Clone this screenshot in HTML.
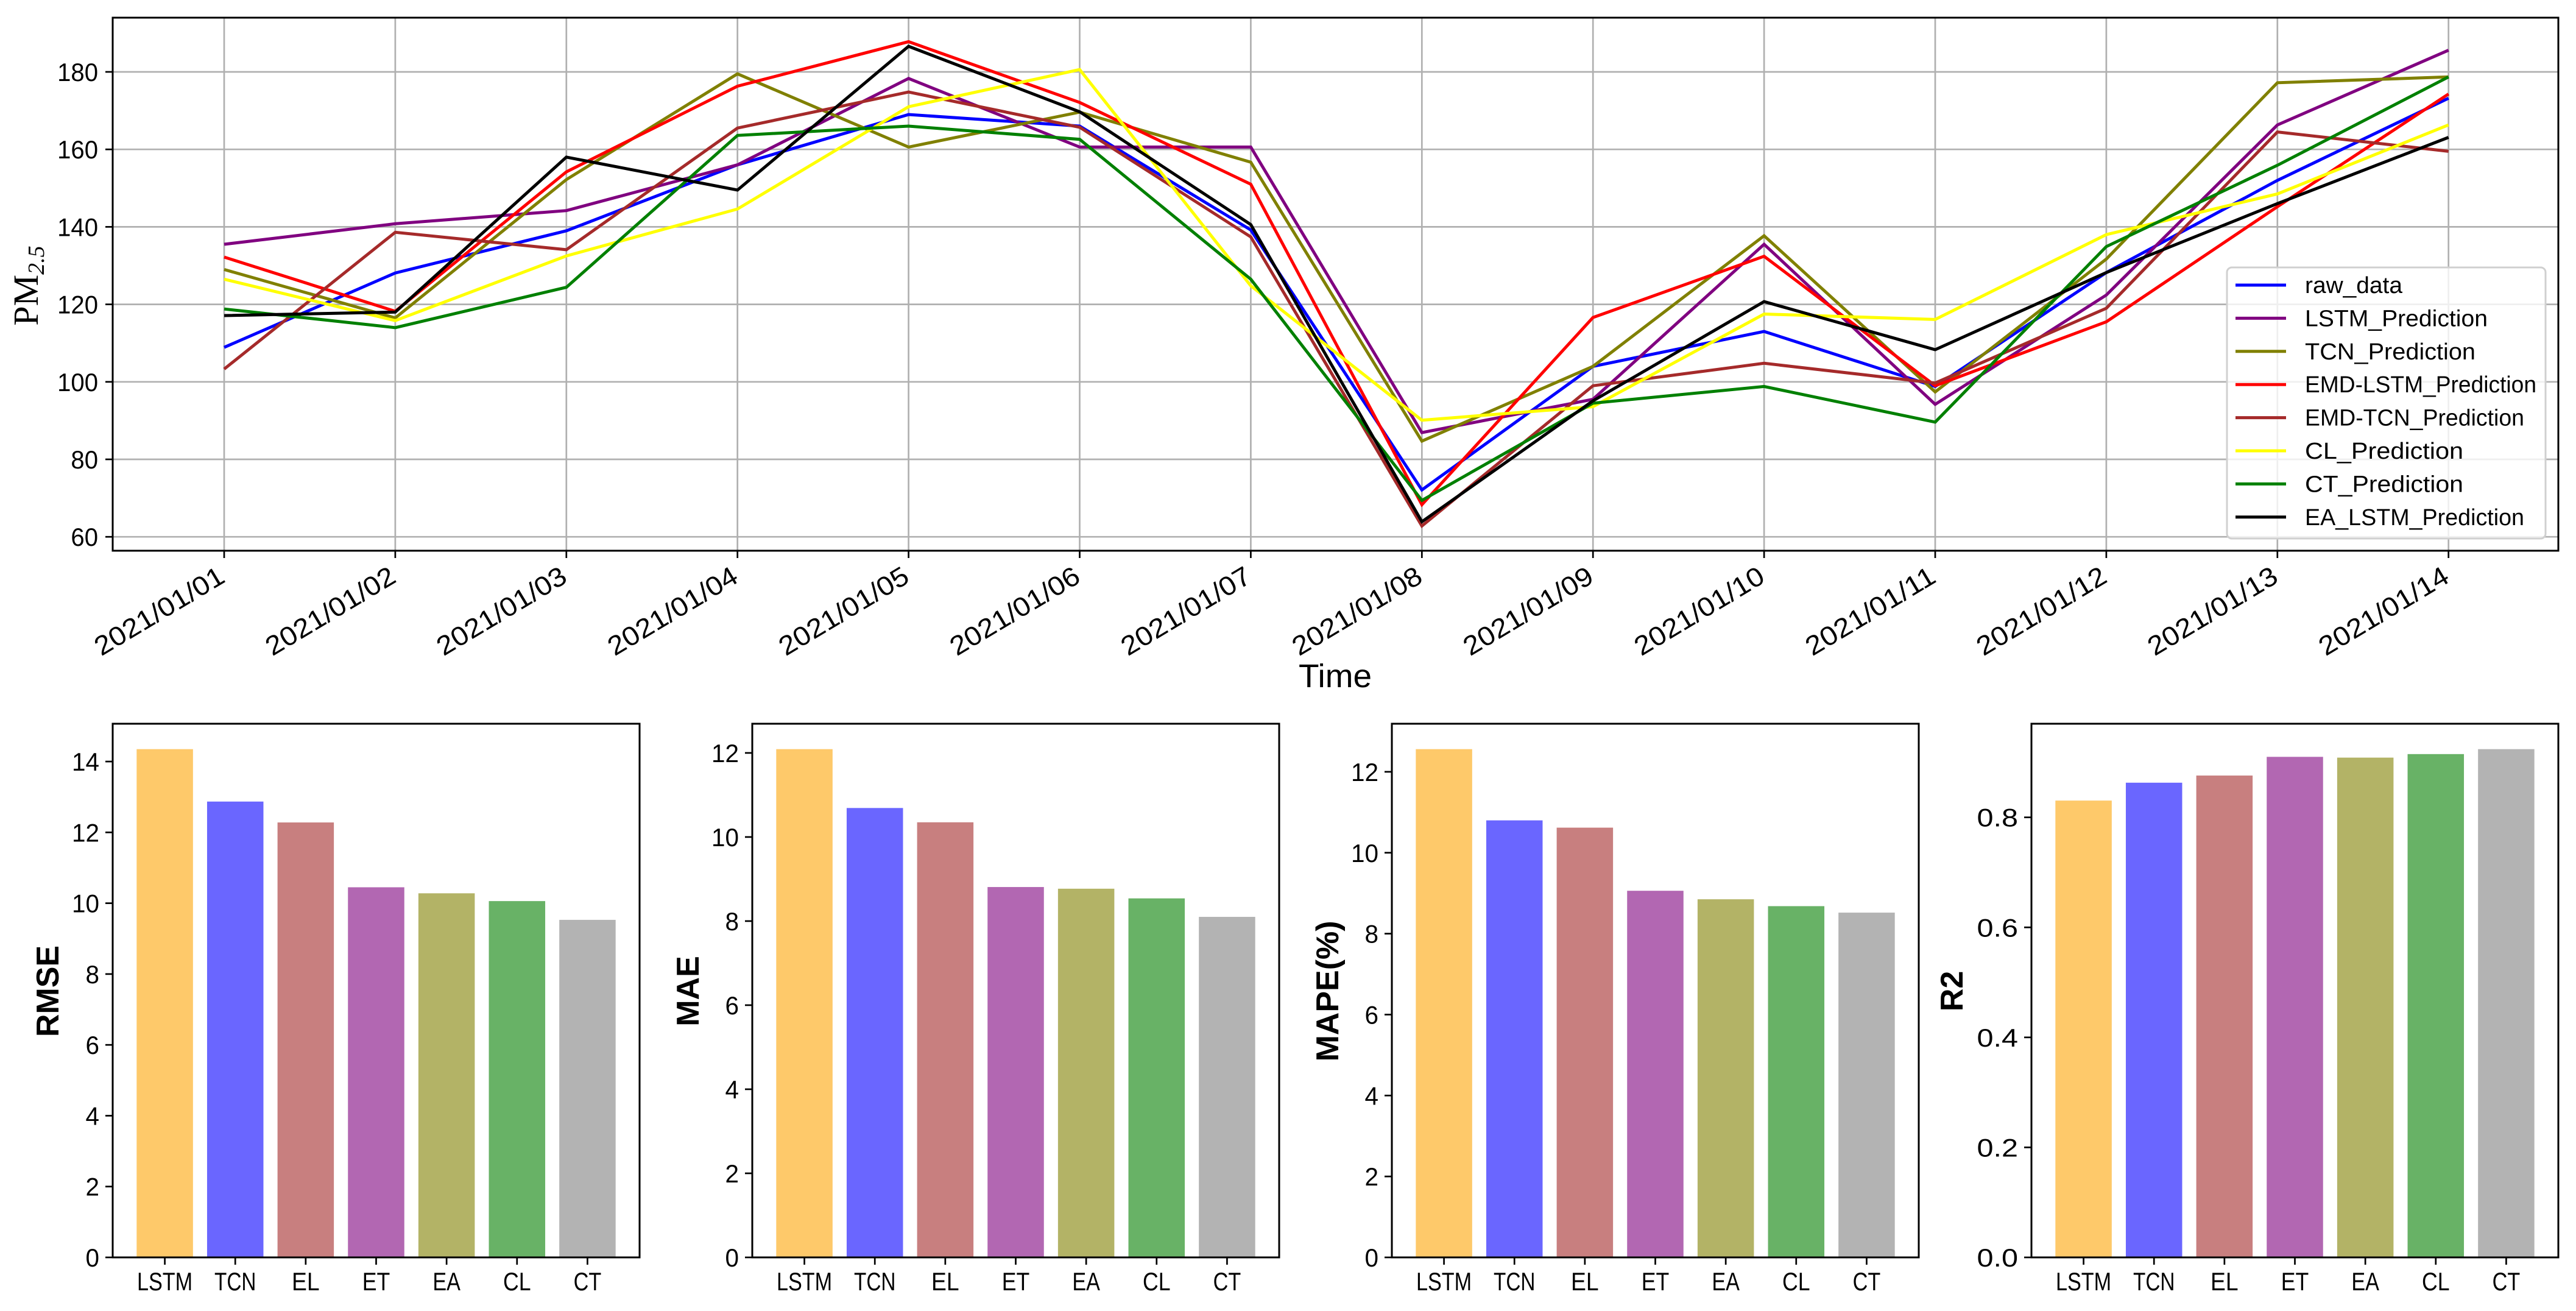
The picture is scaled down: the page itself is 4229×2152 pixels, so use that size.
<!DOCTYPE html>
<html><head><meta charset="utf-8"><style>
html,body{margin:0;padding:0;background:#fff;}
svg{display:block;}
text{font-family:"Liberation Sans","Noto Sans CJK SC",sans-serif;fill:#000;}
</style></head><body>
<svg id="fig" xmlns="http://www.w3.org/2000/svg" width="4229" height="2152" viewBox="0 0 4229 2152">
<rect width="4229" height="2152" fill="#fff"/>
</svg>
<script>
// ===== Line chart data =====
const dates = ["2021/01/01","2021/01/02","2021/01/03","2021/01/04","2021/01/05","2021/01/06","2021/01/07","2021/01/08","2021/01/09","2021/01/10","2021/01/11","2021/01/12","2021/01/13","2021/01/14"];
const seriesNames = ["raw_data","LSTM_Prediction","TCN_Prediction","EMD-LSTM_Prediction","EMD-TCN_Prediction","CL_Prediction","CT_Prediction","EA_LSTM_Prediction"];
const seriesColors = ["#0000ff","#800080","#808000","#ff0000","#a52a2a","#ffff00","#008000","#000000"];
const rawData  = [108.9,128.1,139.0,156.0,169.0,166.0,139.2,72.1,104.0,113.0,98.8,128.2,152.0,173.2];
const lstmPred = [135.5,140.8,144.2,156.0,178.3,160.6,160.6,86.9,95.5,135.5,94.2,122.4,166.3,185.6];
const tcnPred  = [129.0,116.5,152.2,179.5,160.6,169.6,156.7,84.7,104.0,137.7,97.4,131.7,177.2,178.7];
const emdLstm  = [132.2,118.2,154.2,176.3,187.8,172.1,151.0,68.3,116.6,132.4,99.0,115.5,145.2,174.3];
const emdTcn   = [103.3,138.6,134.1,165.5,174.8,165.7,137.4,62.8,99.0,104.8,99.7,119.0,164.5,159.5];
const clPred   = [126.5,115.8,132.5,144.6,171.0,180.6,124.8,90.1,93.6,117.5,116.1,138.0,148.5,166.3];
const ctPred   = [118.8,114.0,124.4,163.6,166.0,162.6,126.5,69.4,94.5,98.8,89.6,134.9,155.9,178.7];
const eaLstm   = [117.1,118.0,158.0,149.5,186.6,169.7,140.6,63.9,95.1,120.7,108.3,128.2,146.0,163.1];
const yTicksTop = [60,80,100,120,140,160,180];

// ===== Bar chart data =====
const models = ["LSTM","TCN","EL","ET","EA","CL","CT"];
const barColors = ["#fec96a","#6a66ff","#c87f7f","#b267b2","#b3b366","#68b266","#b3b3b3"];
const rmseVals = [14.35,12.87,12.28,10.45,10.28,10.06,9.53];
const maeVals  = [12.09,10.69,10.35,8.81,8.77,8.54,8.10];
const mapeVals = [12.56,10.80,10.62,9.06,8.85,8.68,8.52];
const r2Vals   = [0.8305,0.863,0.876,0.910,0.9086,0.915,0.924];
const rmseTicks = [0,2,4,6,8,10,12,14];
const maeTicks  = [0,2,4,6,8,10,12];
const mapeTicks = [0,2,4,6,8,10,12];
const r2Ticks   = [0.0,0.2,0.4,0.6,0.8];

const NS="http://www.w3.org/2000/svg";
const svgEl=document.getElementById('fig');
function mk(tag,attrs,parent){const e=document.createElementNS(NS,tag);for(const k in attrs)e.setAttribute(k,attrs[k]);(parent||svgEl).appendChild(e);return e;}

// ---------- Top line chart ----------
const TA = {l:185,r:4200,t:29,b:904};
const xS = i => 368 + i*280.9;
const yS = v => 118 + (180-v)*6.36;
const gTop = mk('g',{});


dates.forEach((d,i)=>{
  const gl=mk('line',{x1:xS(i),x2:xS(i),y1:TA.t,y2:TA.b,stroke:'#b0b0b0','stroke-width':2.7},gTop);
  
  
});
yTicksTop.forEach(v=>{
  const gl=mk('line',{x1:TA.l,x2:TA.r,y1:yS(v),y2:yS(v),stroke:'#b0b0b0','stroke-width':2.7},gTop);
  
  
  const tk=mk('line',{x1:TA.l-12,x2:TA.l,y1:yS(v),y2:yS(v),stroke:'#000','stroke-width':2.7},gTop);
  
  
  const s=String(v);
  const t=mk('text',{x:TA.l-24,y:yS(v)+15,'text-anchor':'end','font-size':42,textLength:s.length*22.3,lengthAdjust:'spacingAndGlyphs'},gTop);
  t.textContent=s;
  
  
});
dates.forEach((d,i)=>{
  const tk=mk('line',{x1:xS(i),x2:xS(i),y1:TA.b,y2:TA.b+12,stroke:'#000','stroke-width':2.7},gTop);
  
  
  const t=mk('text',{x:0,y:0,'text-anchor':'end','font-size':44,textLength:240,lengthAdjust:'spacingAndGlyphs',transform:`translate(${xS(i)+4},${TA.b+50}) rotate(-31)`},gTop);
  t.textContent=d;
  
  
});
const allSeries=[rawData,lstmPred,tcnPred,emdLstm,emdTcn,clPred,ctPred,eaLstm];
allSeries.forEach((arr,k)=>{
  const pts=arr.map((v,i)=>xS(i).toFixed(1)+','+yS(v).toFixed(1)).join(' ');
  const pl=mk('polyline',{points:pts,fill:'none',stroke:seriesColors[k],'stroke-width':5,'stroke-linejoin':'miter'},gTop);
  
  
});
const fr=mk('rect',{x:TA.l,y:TA.t,width:TA.r-TA.l,height:TA.b-TA.t,fill:'none',stroke:'#000','stroke-width':3},gTop);


const lg=mk('g',{},gTop);


mk('rect',{x:3656,y:439,width:523,height:445,rx:8,fill:'#fff','fill-opacity':0.8,stroke:'#d0d0d0','stroke-width':3},lg);
seriesNames.forEach((n,k)=>{
  const y=468+k*54.4;
  const ln=mk('line',{x1:3670,x2:3753,y1:y,y2:y,stroke:seriesColors[k],'stroke-width':5},lg);
  
  
  const t=mk('text',{x:3784,y:y+13,'font-size':38,textLength:n.length*20,lengthAdjust:'spacingAndGlyphs'},lg);
  t.textContent=n;
  
  
});
const xt=mk('text',{x:2192,y:1128,'text-anchor':'middle','font-size':54,textLength:120,lengthAdjust:'spacingAndGlyphs'},gTop);
xt.textContent='Time';


const yt=mk('text',{x:0,y:0,'text-anchor':'middle',transform:'translate(62,469) rotate(-90)'},gTop);


const ts1=mk('tspan',{'font-size':58,style:"font-family:'Liberation Serif',serif"},yt);
ts1.textContent='PM';
const ts2=mk('tspan',{'font-size':38,dy:10,style:"font-family:'Liberation Serif',serif;font-style:italic"},yt);
ts2.textContent='2.5';

// ---------- Bar charts ----------
function barChart(left,vals,ticks,label,labelX,dec,name){
  const g=mk('g',{});
  
  
  const L=left,R=left+865,T=1188,B=2064;
  const ymax=Math.max(...vals)*1.05;
  const y=v=>B-(v/ymax)*(B-T);
  const step=(R-L)/(6+1.48);
  const x=i=>L+(i+0.74)*step;
  vals.forEach((v,i)=>{
    const r=mk('rect',{x:x(i)-0.4*step,y:y(v),width:0.8*step,height:B-y(v),fill:barColors[i]},g);
    
    
  });
  ticks.forEach(v=>{
    const tk=mk('line',{x1:L-12,x2:L,y1:y(v),y2:y(v),stroke:'#000','stroke-width':2.7},g);
    
    
    const s=v.toFixed(dec);
    const t=mk('text',{x:L-22,y:y(v)+15,'text-anchor':'end','font-size':42,textLength:s.length*22.5,lengthAdjust:'spacingAndGlyphs'},g);
    t.textContent=s;
    
    
  });
  models.forEach((m,i)=>{
    const tk=mk('line',{x1:x(i),x2:x(i),y1:B,y2:B+12,stroke:'#000','stroke-width':2.7},g);
    
    
    const t=mk('text',{x:x(i),y:B+54,'text-anchor':'middle','font-size':42,textLength:m.length*22.8,lengthAdjust:'spacingAndGlyphs'},g);
    t.textContent=m;
    
    
  });
  const f=mk('rect',{x:L,y:T,width:R-L,height:B-T,fill:'none',stroke:'#000','stroke-width':3},g);
  
  
  const t=mk('text',{x:0,y:0,'text-anchor':'middle','font-size':52,'font-weight':'bold',transform:`translate(${labelX+19},1627) rotate(-90)`},g);
  t.textContent=label;
  
  
}
barChart(185,rmseVals,rmseTicks,'RMSE',77,0,'rmse-chart');
barChart(1235,maeVals,maeTicks,'MAE',1128,0,'mae-chart');
barChart(2285,mapeVals,mapeTicks,'MAPE(%)',2178,0,'mape-chart');
barChart(3335,r2Vals,r2Ticks,'R2',3203,1,'r2-chart');
</script>
</body></html>
